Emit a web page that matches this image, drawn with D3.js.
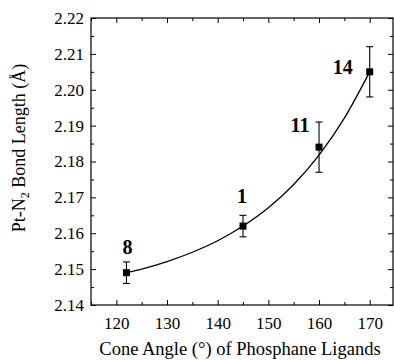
<!DOCTYPE html>
<html>
<head>
<meta charset="utf-8">
<script src="https://cdn.jsdelivr.net/npm/d3@7/dist/d3.min.js"></script>
<style>
  html, body { margin: 0; padding: 0; background: #fff; }
  svg { display: block; }
  svg text { font-family: "Liberation Serif", "Times New Roman", serif; }
</style>
</head>
<body>
<svg id="chart" width="394" height="360"></svg>
<script>
// Cone angle (°) of each phosphane ligand, by complex label
const labels = ["8", "1", "11", "14"];
const coneAngle = [122, 145, 160, 170];
const bondLength = [2.149, 2.162, 2.184, 2.205];   // Pt–N2 bond length (Å)
const bondError = [0.003, 0.003, 0.007, 0.007];    // ± esd

// Exponential trend curve sampled along the cone-angle range
const fitAngle = [122, 125, 130, 135, 140, 145, 150, 155, 160, 165, 170];
const fitLength = [2.1490, 2.1500, 2.1521, 2.1547, 2.1579, 2.1620, 2.1671, 2.1736, 2.1818, 2.1921, 2.2050];

// Axis ticks
const xTicks = [120, 130, 140, 150, 160, 170];
const xMinor = [115, 125, 135, 145, 155, 165];
const yTicks = [2.14, 2.15, 2.16, 2.17, 2.18, 2.19, 2.20, 2.21, 2.22];
const yMinor = [2.145, 2.155, 2.165, 2.175, 2.185, 2.195, 2.205, 2.215];

const svg = d3.select("#chart");
const plotL = 91, plotR = 393, plotT = 18, plotB = 305;

const x = d3.scaleLinear().domain([115, 174.6]).range([plotL, plotR]);
const y = d3.scaleLinear().domain([2.14, 2.22]).range([plotB, plotT]);

const majorLen = 5, minorLen = 3;
const serif = "Liberation Serif";

// Ticks pointing inward on all four sides, no domain line (frame drawn separately)
function styleAxis(g) {
  g.attr("font-family", serif).attr("font-size", 17);
  g.select(".domain").remove();
  g.selectAll(".tick line").attr("stroke", "#000").attr("stroke-width", 1);
  g.selectAll(".tick text").attr("fill", "#000");
}

// bottom
svg.append("g").attr("transform", `translate(0,${plotB})`)
  .call(d3.axisBottom(x).tickValues(xTicks).tickSize(-majorLen).tickPadding(12).tickFormat(d3.format("d")))
  .call(styleAxis);
svg.append("g").attr("transform", `translate(0,${plotB})`)
  .call(d3.axisBottom(x).tickValues(xMinor).tickSize(-minorLen).tickFormat(""))
  .call(styleAxis);
// top
svg.append("g").attr("transform", `translate(0,${plotT})`)
  .call(d3.axisTop(x).tickValues(xTicks).tickSize(-majorLen).tickFormat(""))
  .call(styleAxis);
svg.append("g").attr("transform", `translate(0,${plotT})`)
  .call(d3.axisTop(x).tickValues(xMinor).tickSize(-minorLen).tickFormat(""))
  .call(styleAxis);
// left
svg.append("g").attr("transform", `translate(${plotL},0)`)
  .call(d3.axisLeft(y).tickValues(yTicks).tickSize(-majorLen).tickPadding(7).tickFormat(d3.format(".2f")))
  .call(styleAxis);
svg.append("g").attr("transform", `translate(${plotL},0)`)
  .call(d3.axisLeft(y).tickValues(yMinor).tickSize(-minorLen).tickFormat(""))
  .call(styleAxis);
// right
svg.append("g").attr("transform", `translate(${plotR},0)`)
  .call(d3.axisRight(y).tickValues(yTicks).tickSize(-majorLen).tickFormat(""))
  .call(styleAxis);
svg.append("g").attr("transform", `translate(${plotR},0)`)
  .call(d3.axisRight(y).tickValues(yMinor).tickSize(-minorLen).tickFormat(""))
  .call(styleAxis);

// frame
svg.append("rect")
  .attr("x", plotL).attr("y", plotT)
  .attr("width", plotR - plotL).attr("height", plotB - plotT)
  .attr("fill", "none").attr("stroke", "#000").attr("stroke-width", 1.2);

// trend curve
const fitData = fitAngle.map((a, i) => [a, fitLength[i]]);
svg.append("path")
  .datum(fitData)
  .attr("fill", "none")
  .attr("stroke", "#000")
  .attr("stroke-width", 1.3)
  .attr("d", d3.line().x(d => x(d[0])).y(d => y(d[1])).curve(d3.curveMonotoneX));

const pts = labels.map((l, i) => ({ label: l, a: coneAngle[i], v: bondLength[i], e: bondError[i] }));

// error bars
const capW = 3.5;
const eb = svg.append("g").attr("stroke", "#000").attr("stroke-width", 1.1);
pts.forEach(p => {
  const cx = x(p.a), y0 = y(p.v - p.e), y1 = y(p.v + p.e);
  eb.append("line").attr("x1", cx).attr("x2", cx).attr("y1", y0).attr("y2", y1);
  eb.append("line").attr("x1", cx - capW).attr("x2", cx + capW).attr("y1", y0).attr("y2", y0);
  eb.append("line").attr("x1", cx - capW).attr("x2", cx + capW).attr("y1", y1).attr("y2", y1);
});

// square markers
const sq = 7;
svg.append("g").selectAll("rect").data(pts).join("rect")
  .attr("x", d => x(d.a) - sq / 2)
  .attr("y", d => y(d.v) - sq / 2)
  .attr("width", sq).attr("height", sq)
  .attr("fill", "#000");

// compound labels, placed relative to their markers
const labelShift = { "8": [1, -19], "1": [-1, -23], "11": [-19, -15], "14": [-27, 2] };
svg.append("g").selectAll("text").data(pts).join("text")
  .attr("x", d => x(d.a) + labelShift[d.label][0])
  .attr("y", d => y(d.v) + labelShift[d.label][1])
  .attr("text-anchor", "middle")
  .attr("font-family", serif)
  .attr("font-size", 20)
  .attr("font-weight", "bold")
  .attr("fill", "#000")
  .text(d => d.label);

// axis titles
svg.append("text")
  .attr("x", 240).attr("y", 355)
  .attr("text-anchor", "middle")
  .attr("font-family", serif)
  .attr("font-size", 18.5)
  .attr("fill", "#000")
  .text("Cone Angle (°) of Phosphane Ligands");

const yt = svg.append("text")
  .attr("transform", "translate(25,148) rotate(-90)")
  .attr("text-anchor", "middle")
  .attr("font-family", serif)
  .attr("font-size", 18)
  .attr("fill", "#000");
yt.append("tspan").text("Pt-N");
yt.append("tspan").attr("font-size", 12).attr("dy", 4).text("2");
yt.append("tspan").attr("dy", -4).text(" Bond Length (Å)");
</script>
</body>
</html>
